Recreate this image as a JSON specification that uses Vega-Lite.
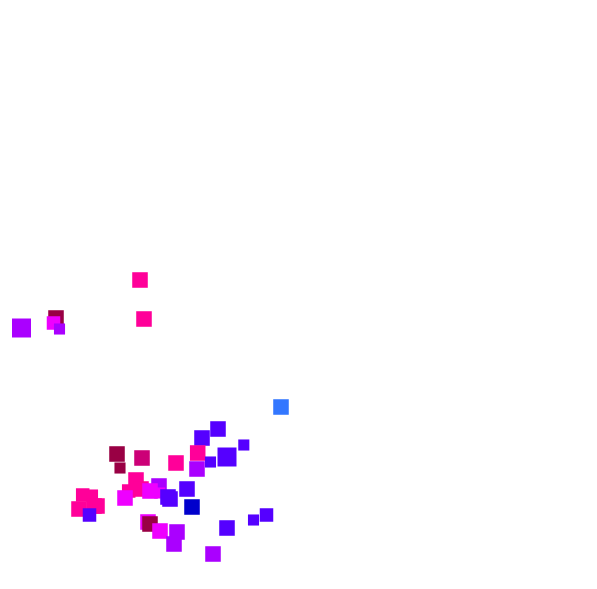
{
  "$schema": "https://vega.github.io/schema/vega-lite/v6.json",
  "width": 597,
  "height": 589,
  "padding": 0,
  "autosize": {"type": "fit", "contains": "padding"},
  "background": "white",
  "config": {"view": {"stroke": null}},
  "data": {"values": [
    {"x": 140, "y": 280, "g": "F", "w": 4},
    {"x": 144, "y": 319, "g": "F", "w": 4},
    {"x": 56, "y": 318, "g": "G", "w": 4},
    {"x": 53.5, "y": 323, "g": "E", "w": 3},
    {"x": 21.5, "y": 328, "g": "D", "w": 6},
    {"x": 59.5, "y": 329, "g": "D", "w": 2},
    {"x": 281, "y": 407, "g": "A", "w": 4},
    {"x": 218, "y": 429, "g": "C", "w": 4},
    {"x": 202, "y": 438, "g": "C", "w": 4},
    {"x": 243.8, "y": 445, "g": "C", "w": 2},
    {"x": 117, "y": 454, "g": "G", "w": 4},
    {"x": 142, "y": 458, "g": "H", "w": 4},
    {"x": 197.7, "y": 453, "g": "F", "w": 4},
    {"x": 227, "y": 457, "g": "C", "w": 6},
    {"x": 176, "y": 463, "g": "F", "w": 4},
    {"x": 210.5, "y": 462, "g": "C", "w": 2},
    {"x": 197, "y": 469, "g": "D", "w": 4},
    {"x": 120, "y": 468, "g": "G", "w": 2},
    {"x": 136, "y": 480, "g": "F", "w": 4},
    {"x": 159, "y": 486, "g": "D", "w": 4},
    {"x": 141, "y": 489, "g": "F", "w": 4},
    {"x": 187, "y": 489, "g": "C", "w": 4},
    {"x": 128.7, "y": 491, "g": "F", "w": 3},
    {"x": 150, "y": 491, "g": "E", "w": 4},
    {"x": 159.7, "y": 493, "g": "E", "w": 2},
    {"x": 82.7, "y": 495, "g": "F", "w": 3},
    {"x": 92.5, "y": 495, "g": "F", "w": 2},
    {"x": 168, "y": 497, "g": "C", "w": 4},
    {"x": 170, "y": 499, "g": "C", "w": 4},
    {"x": 125, "y": 498, "g": "E", "w": 4},
    {"x": 94, "y": 506, "g": "F", "w": 4},
    {"x": 97, "y": 506, "g": "F", "w": 4},
    {"x": 79, "y": 509, "g": "F", "w": 4},
    {"x": 192, "y": 507, "g": "B", "w": 4},
    {"x": 89.5, "y": 515, "g": "C", "w": 3},
    {"x": 266.5, "y": 515, "g": "C", "w": 3},
    {"x": 253.5, "y": 520, "g": "C", "w": 2},
    {"x": 148, "y": 522, "g": "E", "w": 4},
    {"x": 150, "y": 524, "g": "G", "w": 4},
    {"x": 227, "y": 528, "g": "C", "w": 4},
    {"x": 160, "y": 531, "g": "E", "w": 4},
    {"x": 177, "y": 532, "g": "D", "w": 4},
    {"x": 174, "y": 544, "g": "D", "w": 4},
    {"x": 213, "y": 554, "g": "D", "w": 4}
  ]},
  "mark": {"type": "square", "opacity": 1, "filled": true},
  "encoding": {
    "x": {"field": "x", "type": "quantitative", "scale": {"domain": [0, 597], "nice": false, "zero": false}, "axis": null},
    "y": {"field": "y", "type": "quantitative", "scale": {"domain": [589, 0], "nice": false, "zero": false}, "axis": null},
    "color": {"field": "g", "type": "nominal", "legend": null,
      "scale": {"domain": ["A", "B", "C", "D", "E", "F", "G", "H"],
                "range": ["#3377ff", "#0000cc", "#5500ff", "#aa00ff", "#ee00ff", "#ff0099", "#990044", "#cc0077"]}},
    "size": {"field": "w", "type": "quantitative", "legend": null, "scale": {"type": "identity"}}
  }
}
